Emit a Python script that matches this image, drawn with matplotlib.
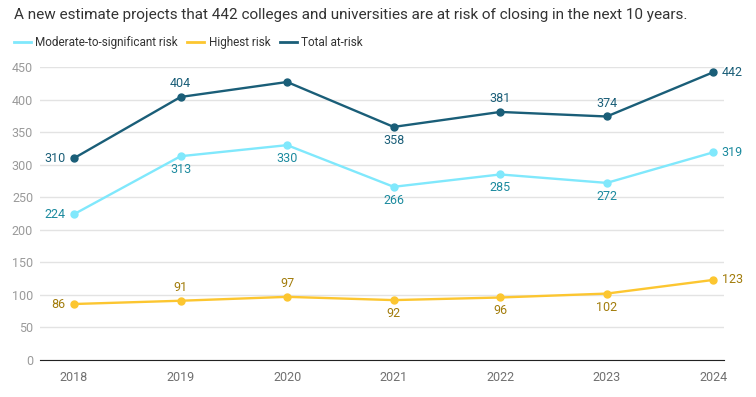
import matplotlib.pyplot as plt

plt.rcParams['font.family'] = ['Roboto', 'DejaVu Sans']

years = [2018, 2019, 2020, 2021, 2022, 2023, 2024]
moderate = [224, 313, 330, 266, 285, 272, 319]
highest = [86, 91, 97, 92, 96, 102, 123]
total = [310, 404, 427, 358, 381, 374, 442]

# where each label sits relative to its point
total_pos = ['left', 'above', None, 'below', 'above', 'above', 'right']
moderate_pos = ['left', 'below', 'below', 'below', 'below', 'below', 'right']
highest_pos = ['left', 'above', 'above', 'below', 'below', 'below', 'right']

fig = plt.figure(figsize=(7.56, 3.97), dpi=100)
ax = fig.add_axes([0.053, 0.0932, 0.905, 0.738])

series = [
    ('Moderate-to-significant risk', moderate, moderate_pos, '#80e8fc', '#1b8a9e'),
    ('Highest risk', highest, highest_pos, '#fcc630', '#a27c0b'),
    ('Total at-risk', total, total_pos, '#1a5e78', '#1a5e78'),
]

for name, vals, pos, col, lcol in series:
    ax.plot(years, vals, color=col, lw=1.7, marker='o', ms=5, label=name, zorder=3)
    for x, v, p in zip(years, vals, pos):
        if p is None:
            continue
        if p == 'left':
            ax.annotate(str(v), (x, v), xytext=(-6, 0), textcoords='offset points',
                        ha='right', va='center', color=lcol, fontsize=9)
        elif p == 'right':
            ax.annotate(str(v), (x, v), xytext=(6, 0), textcoords='offset points',
                        ha='left', va='center', color=lcol, fontsize=9)
        elif p == 'above':
            ax.annotate(str(v), (x, v), xytext=(0, 5), textcoords='offset points',
                        ha='center', va='bottom', color=lcol, fontsize=9)
        else:
            ax.annotate(str(v), (x, v), xytext=(0, -5), textcoords='offset points',
                        ha='center', va='top', color=lcol, fontsize=9)

ax.set_xlim(2018 - 0.319, 2024.103)
ax.set_ylim(0, 450)
ax.set_yticks(range(0, 451, 50))
ax.set_xticks(years)
ax.grid(axis='y', color='#e3e3e3', lw=1)
ax.set_axisbelow(True)

for s in ['top', 'left', 'right']:
    ax.spines[s].set_visible(False)
ax.spines['bottom'].set_color('#222222')
ax.tick_params(axis='y', length=0, labelsize=9, labelcolor='#9a9a9a', pad=5)
ax.tick_params(axis='x', length=0, labelsize=9, labelcolor='#707070', pad=8)

fig.text(0.018, 0.962, 'A new estimate projects that 442 colleges and universities are at risk of closing in the next 10 years.',
         fontsize=11, color='#333333', va='center', ha='left')

leg = fig.legend(loc='center left', bbox_to_anchor=(0.0185, 0.893), ncol=3, frameon=False,
                 fontsize=8.5, handlelength=1.45, handletextpad=0.35, columnspacing=0.8,
                 labelcolor='#333333', borderpad=0, borderaxespad=0)
for h in leg.legend_handles:
    h.set_marker('')
    h.set_linewidth(2)

fig.savefig('out.png', dpi=100)
